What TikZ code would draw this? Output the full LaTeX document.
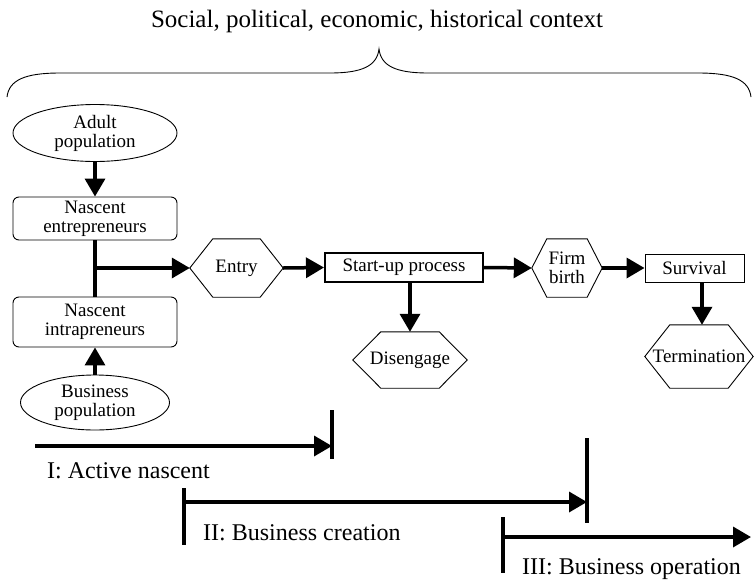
\documentclass[tikz,border=0pt]{standalone}
\usepackage{fontspec}
\setmainfont{Liberation Serif}
\usetikzlibrary{arrows.meta,shapes.geometric}
\newcommand\hexOutline[2]{\draw[outline] (#1.west) -- ([xshift=#2]#1.north west) -- ([xshift=-#2]#1.north east) -- (#1.east) -- ([xshift=-#2]#1.south east) -- ([xshift=#2]#1.south west) -- cycle;}
\tikzset{
  outline/.style={line width=0.9pt, line join=miter},
  txt/.style={font=\fontsize{19}{19}\selectfont, align=center, inner sep=0pt},
  ellnode/.style={txt, ellipse, draw, line width=0.9pt},
  roundbox/.style={txt, rectangle, rounded corners=6pt, draw, line width=0.9pt},
  plainbox/.style={txt, rectangle, draw, line width=0.9pt},
  hexnode/.style={txt, rectangle, draw=none},
  conn/.style={line width=3.5pt, -{Triangle[length=18pt,width=20pt]}},
  bar/.style={line width=3.5pt},
  lbl/.style={font=\fontsize{24}{24}\selectfont, inner sep=0pt, anchor=base west},
}
\begin{document}
\begin{tikzpicture}[x=1pt,y=-1pt]
\useasboundingbox (0,0) rectangle (755,579);
% title and brace
\node[font=\fontsize{25}{25}\selectfont, inner sep=0pt, anchor=base] (title) at (377,27) {Social, political, economic, historical context};
\draw[line width=0.9pt] (7,97) .. controls (9,80) and (25,73) .. (60,73) -- (330,73)
  .. controls (362,73) and (377,66) .. (379,49)
  .. controls (381,66) and (396,73) .. (428,73) -- (698,73)
  .. controls (733,73) and (749,80) .. (751,97);
% nodes
\node[ellnode, minimum width=164pt, minimum height=57pt] (adult) at (95,133) {Adult\\population};
\node[roundbox, minimum width=164pt, minimum height=43pt] (nent) at (95,218.5) {Nascent\\entrepreneurs};
\node[roundbox, minimum width=164pt, minimum height=50pt] (nint) at (95,322) {Nascent\\intrapreneurs};
\node[ellnode, minimum width=149pt, minimum height=55pt] (bus) at (95,402.5) {Business\\population};
\node[hexnode, minimum width=93pt, minimum height=58pt] (entry) at (236.5,268) {Entry};
\hexOutline{entry}{23pt}
\node[txt, rectangle, draw, line width=2pt, minimum width=158pt, minimum height=29pt] (startup) at (404,267.5) {Start-up process};
\node[hexnode, minimum width=114pt, minimum height=56pt] (diseng) at (410,360) {Disengage};
\hexOutline{diseng}{28pt}
\node[hexnode, minimum width=70pt, minimum height=58pt] (firm) at (567,268) {Firm\\birth};
\hexOutline{firm}{15pt}
\node[plainbox, minimum width=99pt, minimum height=28pt] (surv) at (694.5,268) {Survival};
\node[hexnode, minimum width=108pt, minimum height=63pt] (term) at (699,356.5) {Termination};
\hexOutline{term}{25pt}
% connectors
\draw[conn] (adult.south) -- (nent.north);
\draw[bar] (nent.south) -- (nint.north);
\coordinate (junc) at (95,268);
\draw[conn] (junc) -- (entry.west);
\draw[conn] (bus.north) -- (nint.south);
\draw[conn] (entry.east) -- (startup.west);
\draw[conn] (diseng.north |- startup.south) -- (diseng.north);
\draw[conn] (startup.east) -- (firm.west);
\draw[conn] (firm.east) -- (surv.west);
\draw[conn] ([xshift=3pt]term.north |- surv.south) -- ([xshift=3pt]term.north);
% timeline
\coordinate (i0) at (35,446);
\coordinate (i1) at (332,446);
\draw[conn] (i0) -- (i1);
\draw[bar] (332,410) -- (332,459);
\node[lbl] (li) at (47,478) {I: Active nascent};
\coordinate (ii0) at (184,502);
\coordinate (ii1) at (587,502);
\draw[bar] (184,488) -- (184,545);
\draw[conn] (ii0) -- (ii1);
\draw[bar] (587,438) -- (587,523);
\node[lbl] (lii) at (203,540) {II: Business creation};
\coordinate (iii0) at (503,537);
\coordinate (iii1) at (751,537);
\draw[bar] (503,517) -- (503,573);
\draw[conn] (iii0) -- (iii1);
\node[lbl] (liii) at (522,574) {III: Business operation};
\end{tikzpicture}
\end{document}
